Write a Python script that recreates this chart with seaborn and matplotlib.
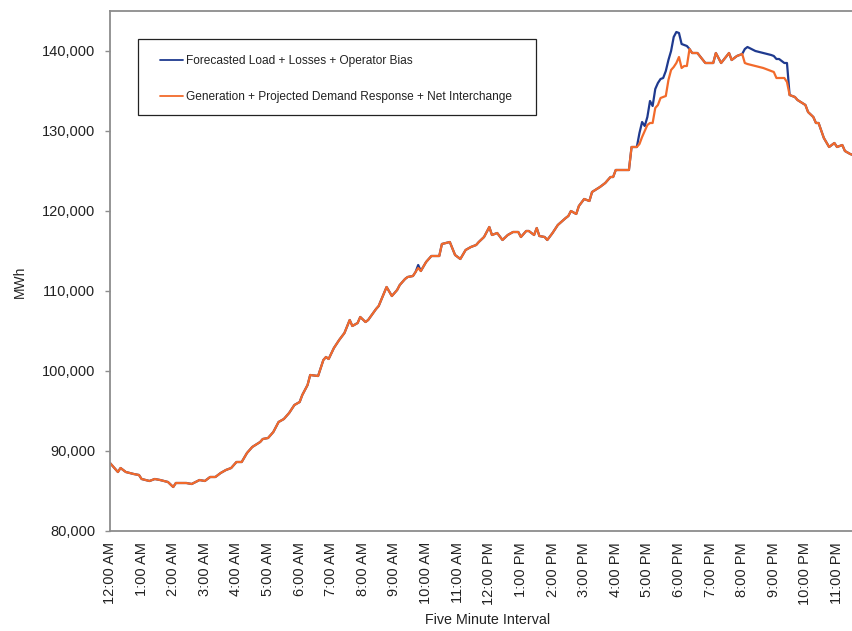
import matplotlib
matplotlib.use("Agg")
import matplotlib.pyplot as plt
from matplotlib.patches import Rectangle
from matplotlib.ticker import FuncFormatter
import pandas as pd
import seaborn as sns

# Hour labels shown every 12 five-minute intervals
hour_labels = [
    "12:00 AM", "1:00 AM", "2:00 AM", "3:00 AM", "4:00 AM", "5:00 AM",
    "6:00 AM", "7:00 AM", "8:00 AM", "9:00 AM", "10:00 AM", "11:00 AM",
    "12:00 PM", "1:00 PM", "2:00 PM", "3:00 PM", "4:00 PM", "5:00 PM",
    "6:00 PM", "7:00 PM", "8:00 PM", "9:00 PM", "10:00 PM", "11:00 PM",
]

series_names = [
    "Forecasted Load + Losses + Operator Bias",
    "Generation + Projected Demand Response + Net Interchange",
]

# Five-minute interval index (0 = 12:00 AM, 287 = 11:55 PM)
interval = [
    0, 3, 4, 6, 9, 11, 12, 15, 17, 19, 22, 24, 25, 29, 31, 34, 36, 38, 40, 42,
    44, 46, 48, 50, 52, 54, 57, 58, 60, 62, 64, 66, 68, 70, 72, 73, 75, 76, 79, 81,
    82, 83, 85, 87, 89, 91, 92, 94, 95, 97, 98, 101, 102, 105, 107, 109, 110, 112, 113, 115,
    116, 117, 118, 120, 122, 125, 126, 129, 131, 133, 135, 137, 139, 140, 142, 144, 145, 147, 149, 151,
    153, 155, 156, 158, 159, 161, 162, 163, 165, 166, 168, 170, 173, 174, 175, 177, 178, 180, 182, 183,
    186, 188, 190, 191, 192, 197, 198, 200, 201, 202, 203, 204, 205, 206, 207, 208, 209, 210, 211, 212,
    213, 214, 215, 216, 217, 218, 219, 220, 221, 223, 226, 229, 230, 232, 235, 236, 238, 240, 241, 242,
    245, 248, 251, 252, 253, 254, 256, 257, 258, 260, 261, 264, 265, 267, 268, 269, 271, 273, 275, 276,
    278, 279, 281, 282, 287,
]

forecast_load = [
    88500, 87375, 87875, 87375, 87125, 87000, 86500, 86250, 86500, 86375, 86125, 85500, 86000, 86000, 85875, 86375, 86250, 86750, 86750, 87250,
    87625, 87875, 88625, 88625, 89750, 90500, 91125, 91500, 91625, 92375, 93625, 94000, 94750, 95750, 96125, 97000, 98250, 99500, 99375, 101375,
    101750, 101500, 102875, 103875, 104750, 106375, 105625, 106000, 106750, 106125, 106375, 107750, 108125, 110500, 109375, 110125, 110750, 111500, 111750, 111875,
    112375, 113250, 112500, 113625, 114375, 114375, 115875, 116125, 114500, 114000, 115125, 115500, 115750, 116125, 116750, 118000, 117000, 117250, 116375, 117000,
    117375, 117375, 116750, 117500, 117500, 117000, 117875, 116875, 116750, 116375, 117250, 118250, 119125, 119375, 120000, 119625, 120625, 121500, 121250, 122375,
    123000, 123500, 124250, 124250, 125125, 125125, 128000, 128000, 129750, 131125, 130625, 131750, 133750, 133125, 135250, 136000, 136500, 136625, 137500, 138875,
    140000, 141750, 142375, 142250, 140875, 140750, 140625, 140250, 139750, 139750, 138500, 138500, 139750, 138500, 139750, 138875, 139375, 139625, 140250, 140500,
    140000, 139750, 139500, 139375, 139000, 139000, 138500, 138500, 134500, 134250, 133875, 133250, 132375, 131750, 131000, 131000, 129125, 128000, 128500, 128000,
    128250, 127500, 127125, 127000, 126750,
]

generation_supply = [
    88500, 87375, 87875, 87375, 87125, 87000, 86500, 86250, 86500, 86375, 86125, 85500, 86000, 86000, 85875, 86375, 86250, 86750, 86750, 87250,
    87625, 87875, 88625, 88625, 89750, 90500, 91125, 91500, 91625, 92375, 93625, 94000, 94750, 95750, 96125, 97000, 98250, 99500, 99375, 101375,
    101750, 101500, 102875, 103875, 104750, 106375, 105625, 106000, 106750, 106125, 106375, 107750, 108125, 110500, 109375, 110125, 110750, 111500, 111750, 111875,
    112375, 112875, 112500, 113625, 114375, 114375, 115875, 116125, 114500, 114000, 115125, 115500, 115750, 116125, 116750, 118000, 117000, 117250, 116375, 117000,
    117375, 117375, 116750, 117500, 117500, 117000, 117875, 116875, 116750, 116375, 117250, 118250, 119125, 119375, 120000, 119625, 120625, 121500, 121250, 122375,
    123000, 123500, 124250, 124250, 125125, 125125, 128000, 128000, 128375, 129250, 130000, 130750, 131000, 131000, 132875, 133250, 134125, 134250, 134375, 136375,
    137625, 138000, 138500, 139250, 137875, 138125, 138125, 140250, 139750, 139750, 138500, 138500, 139750, 138500, 139750, 138875, 139375, 139625, 138500, 138375,
    138125, 137875, 137500, 137375, 136625, 136625, 136625, 136125, 134500, 134250, 133875, 133250, 132375, 131750, 131000, 131000, 129125, 128000, 128500, 128000,
    128250, 127500, 127125, 127000, 126750,
]

blue = "#1f3a8f"
orange = "#f26a2b"
text_color = "#222222"
spine_color = "#8c8c8c"

df = pd.DataFrame({
    "interval": interval,
    series_names[0]: forecast_load,
    series_names[1]: generation_supply,
}).melt(id_vars="interval", var_name="series", value_name="MWh")

sns.set_theme(style="white")
plt.rcParams["font.family"] = ["Liberation Sans", "DejaVu Sans"]

W, H = 853, 631
fig = plt.figure(figsize=(W / 100, H / 100), dpi=100)
# plot area runs from x=110 to x=866 px (the last hours run past the canvas edge)
ax = fig.add_axes([110 / W, 100 / H, 756 / W, 520 / H])

sns.lineplot(
    data=df, x="interval", y="MWh", hue="series",
    hue_order=series_names, palette=[blue, orange],
    linewidth=1.6, ax=ax, legend=True,
)

ax.set_xlim(0, 287)
ax.set_ylim(80000, 145000)

ax.set_xticks(range(0, 288, 12))
ax.set_xticklabels(hour_labels, rotation=90, fontsize=10.5, color=text_color)
ax.set_yticks(range(80000, 140001, 10000))
ax.yaxis.set_major_formatter(FuncFormatter(lambda v, _: f"{int(v):,}"))
ax.tick_params(axis="x", length=0, pad=8)
ax.tick_params(axis="y", length=3.6, width=1, color=spine_color, pad=7,
               labelsize=10.5, labelcolor=text_color, direction="out", left=True)

ax.set_xlabel("Five Minute Interval", fontsize=10.3, color=text_color, labelpad=6)
ax.set_ylabel("MWh", fontsize=10, color=text_color)
ax.yaxis.set_label_coords((27 - 110) / 756, 0.48)

for side in ["left", "bottom", "top", "right"]:
    ax.spines[side].set_color(spine_color)
    ax.spines[side].set_linewidth(1.3)

# legend: frame drawn as a rectangle, entries placed inside it
def px_to_axes(x, y):
    return (x - 110) / 756, (531 - y) / 520

x0, y0 = px_to_axes(138, 115)
x1, y1 = px_to_axes(536, 39)
ax.add_patch(Rectangle((x0, y0), x1 - x0, y1 - y0, transform=ax.transAxes,
                       facecolor="white", edgecolor="#222222", linewidth=0.9, zorder=5))

handles, labels = ax.get_legend_handles_labels()
lx, ly = px_to_axes(160, 79)
leg = ax.legend(handles, labels, loc="center left", bbox_to_anchor=(lx, ly),
                frameon=False, fontsize=8.6, handlelength=1.92, handletextpad=0.25,
                labelspacing=1.97, borderpad=0, borderaxespad=0)
leg.set_zorder(6)
for t in leg.get_texts():
    t.set_color(text_color)
for line in leg.get_lines():
    line.set_linewidth(1.3)

fig.savefig("out.png", dpi=100)
